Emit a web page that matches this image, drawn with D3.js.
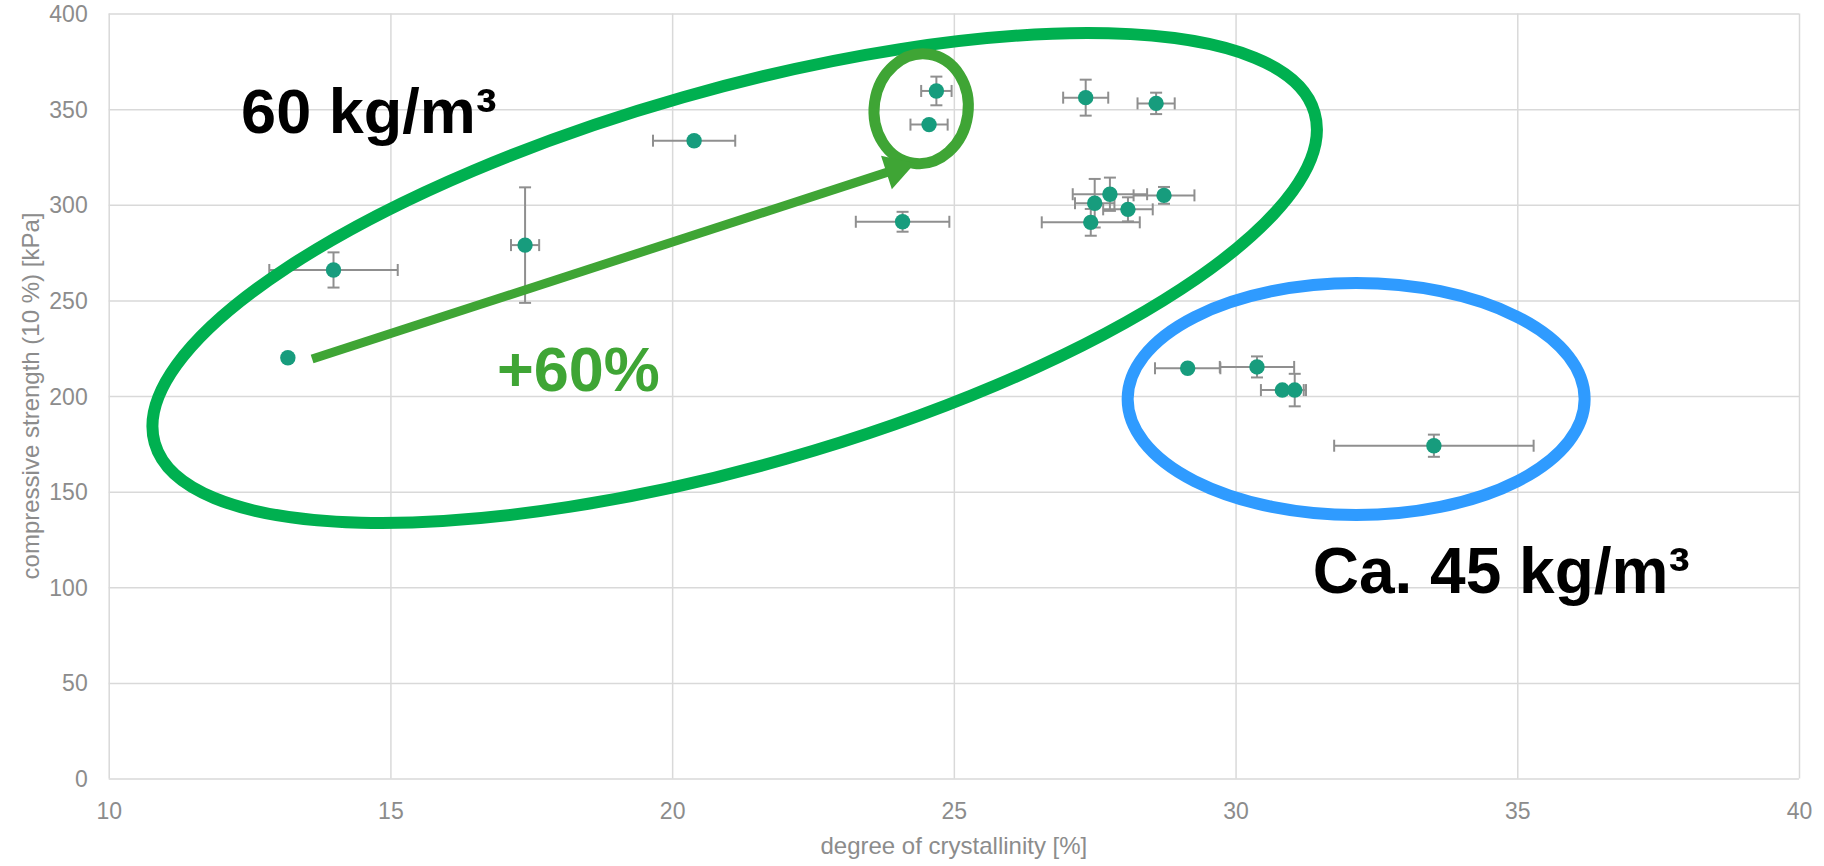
<!DOCTYPE html>
<html>
<head>
<meta charset="utf-8">
<script src="https://cdn.jsdelivr.net/npm/d3@7"></script>
<style>
  body { margin: 0; background: #fff; }
  svg { display: block; font-family: "Liberation Sans", Arial, sans-serif; }
</style>
</head>
<body>
<svg id="chart"></svg>
<script>
// degree of crystallinity [%] and its std dev
const crystallinity = [13.18, 13.99, 17.39, 20.39, 24.69, 24.56, 24.09, 27.34, 28.59, 27.77, 27.50, 28.09, 27.43, 28.73, 29.15, 30.38, 30.83, 31.05, 33.52];
const crystErr      = [0,     1.14,  0.25,  0.73,  0.27,  0.33,  0.83,  0.40,  0.33,  0.66,  0.35,  0.44,  0.87,  0.54,  0.58,  0.66,  0.38,  0.20,  1.77];
// compressive strength (10 %) [kPa] and its std dev
const strength      = [220.0, 265.9, 278.9, 333.5, 359.5, 341.9, 291.1, 356.0, 353.0, 305.5, 300.8, 297.6, 290.8, 304.9, 214.5, 215.2, 203.1, 203.1, 174.0];
const strengthErr   = [0,     9.2,   30.2,  0,     7.5,   0,     5.2,   9.4,   5.6,   8.7,   12.7,  6.3,   7.0,   4.4,   0,     5.5,   0,     8.5,   5.8];

const xTicks = [10, 15, 20, 25, 30, 35, 40];
const yTicks = [0, 50, 100, 150, 200, 250, 300, 350, 400];

const xTitle = "degree of crystallinity [%]";
const yTitle = "compressive strength (10 %) [kPa]";

// annotations, anchored in data units
const noteTexts = ["60 kg/m³", "+60%", "Ca. 45 kg/m³"];
const noteX = [12.35, 16.89, 31.37];
const noteY = [337.7, 202.6, 97.0];
const arrowFrom = [13.61, 219.3];
const arrowTo = [24.31, 321.7];
const ringX = [21.11, 32.14, 24.42];
const ringY = [261.7, 198.4, 350.2];

const config = {
  width: 1824, height: 866,
  margin: { top: 13.5, left: 108.7, right: 25, bottom: 87.5 }
};
const innerW = config.width - config.margin.left - config.margin.right;
const innerH = config.height - config.margin.top - config.margin.bottom;

const points = crystallinity.map((x, i) => ({
  x: x, y: strength[i], ex: crystErr[i], ey: strengthErr[i]
}));

const svg = d3.select('#chart')
  .attr('width', config.width)
  .attr('height', config.height);

const chart = svg.append('g')
  .attr('transform', `translate(${config.margin.left},${config.margin.top})`);

const xScale = d3.scaleLinear().domain([10, 40]).range([0, innerW]);
const yScale = d3.scaleLinear().domain([0, 400]).range([innerH, 0]);

const labelColor = '#8c8c8c';
const gridColor = '#d9d9d9';

// grid (vertical + horizontal), the outer ones act as frame
chart.append('g')
  .attr('transform', `translate(0,${innerH})`)
  .call(d3.axisBottom(xScale).tickValues(xTicks).tickSize(-innerH).tickFormat(d3.format('d')))
  .call(g => g.select('.domain').remove())
  .call(g => g.selectAll('line').attr('stroke', gridColor).attr('stroke-width', 1.5))
  .call(g => g.selectAll('text').attr('fill', labelColor).style('font-size', '23px')
    .attr('y', 40).attr('dy', 0));

chart.append('g')
  .call(d3.axisLeft(yScale).tickValues(yTicks).tickSize(-innerW).tickPadding(21).tickFormat(d3.format('d')))
  .call(g => g.select('.domain').remove())
  .call(g => g.selectAll('line').attr('stroke', gridColor).attr('stroke-width', 1.5))
  .call(g => g.selectAll('text').attr('fill', labelColor).style('font-size', '23px').attr('dy', '0.35em'));

// axis titles
svg.append('text')
  .attr('x', config.margin.left + innerW / 2)
  .attr('y', 853.5)
  .attr('text-anchor', 'middle')
  .attr('fill', labelColor)
  .style('font-size', '24px')
  .text(xTitle);

svg.append('text')
  .attr('transform', `translate(39,${config.margin.top + innerH / 2}) rotate(-90)`)
  .attr('text-anchor', 'middle')
  .attr('fill', labelColor)
  .style('font-size', '24px')
  .text(yTitle);

// error bars
const capHalf = 6;
const bars = chart.append('g')
  .attr('stroke', '#8f8f8f')
  .attr('stroke-width', 2)
  .attr('fill', 'none');

points.filter(d => d.ex > 0).forEach(d => {
  const x0 = xScale(d.x - d.ex), x1 = xScale(d.x + d.ex), y = yScale(d.y);
  bars.append('line').attr('x1', x0).attr('x2', x1).attr('y1', y).attr('y2', y);
  bars.append('line').attr('x1', x0).attr('x2', x0).attr('y1', y - capHalf).attr('y2', y + capHalf);
  bars.append('line').attr('x1', x1).attr('x2', x1).attr('y1', y - capHalf).attr('y2', y + capHalf);
});
points.filter(d => d.ey > 0).forEach(d => {
  const y0 = yScale(d.y - d.ey), y1 = yScale(d.y + d.ey), x = xScale(d.x);
  bars.append('line').attr('x1', x).attr('x2', x).attr('y1', y0).attr('y2', y1);
  bars.append('line').attr('x1', x - capHalf).attr('x2', x + capHalf).attr('y1', y0).attr('y2', y0);
  bars.append('line').attr('x1', x - capHalf).attr('x2', x + capHalf).attr('y1', y1).attr('y2', y1);
});

// markers
chart.selectAll('.dot')
  .data(points)
  .join('circle')
    .attr('class', 'dot')
    .attr('cx', d => xScale(d.x))
    .attr('cy', d => yScale(d.y))
    .attr('r', 7.7)
    .attr('fill', '#179c7d');

// rings around the groups
const ringStyle = [
  { rx: 603, ry: 188, rot: -15.9, color: '#00b050', w: 12 },
  { rx: 228.5, ry: 116, rot: 0, color: '#2f9bff', w: 12 },
  { rx: 47, ry: 55, rot: 8, color: '#3fa535', w: 11 }
];
ringStyle.forEach((s, i) => {
  const cx = xScale(ringX[i]), cy = yScale(ringY[i]);
  chart.append('ellipse')
    .attr('transform', `translate(${cx},${cy}) rotate(${s.rot})`)
    .attr('rx', s.rx)
    .attr('ry', s.ry)
    .attr('fill', 'none')
    .attr('stroke', s.color)
    .attr('stroke-width', s.w);
});

// arrow
const ax0 = xScale(arrowFrom[0]), ay0 = yScale(arrowFrom[1]);
const ax1 = xScale(arrowTo[0]), ay1 = yScale(arrowTo[1]);
const ang = Math.atan2(ay1 - ay0, ax1 - ax0);
const headLen = 30, headHalf = 17.5;
const bx = ax1 - headLen * Math.cos(ang), by = ay1 - headLen * Math.sin(ang);
chart.append('line')
  .attr('x1', ax0).attr('y1', ay0)
  .attr('x2', bx + 2 * Math.cos(ang)).attr('y2', by + 2 * Math.sin(ang))
  .attr('stroke', '#3fa535')
  .attr('stroke-width', 9);
chart.append('polygon')
  .attr('points', [
    [ax1, ay1],
    [bx - headHalf * Math.sin(ang), by + headHalf * Math.cos(ang)],
    [bx + headHalf * Math.sin(ang), by - headHalf * Math.cos(ang)]
  ].map(p => p.join(',')).join(' '))
  .attr('fill', '#3fa535');

// text labels
const noteColor = ['#000', '#3fa535', '#000'];
const noteSize = [63, 63, 64];
noteTexts.forEach((t, i) => {
  chart.append('text')
    .attr('x', xScale(noteX[i]))
    .attr('y', yScale(noteY[i]))
    .attr('fill', noteColor[i])
    .style('font-size', noteSize[i] + 'px')
    .style('font-weight', 'bold')
    .text(t);
});
</script>
</body>
</html>
